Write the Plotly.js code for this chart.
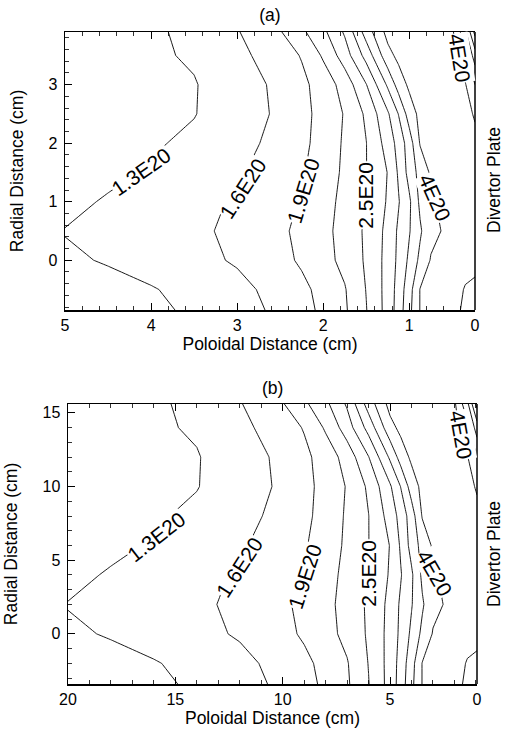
<!DOCTYPE html>
<html><head><meta charset="utf-8">
<script src="https://cdn.plot.ly/plotly-3.0.1.min.js"></script>
<style>html,body{margin:0;padding:0;background:#fff}#chart{width:506px;height:729px}</style>
</head><body><div id="chart"></div>
<script>
// ---- data (density in units of 1E20 m^-3) ----
const xA = [5, 4.5, 4, 3.5, 3, 2.5, 2.25, 2, 1.75, 1.5, 1.25, 1.125, 1, 0.875, 0.75, 0.5, 0.35, 0.237];
const yA = [-0.85, -0.5, 0, 0.5, 1, 1.5, 2, 2.5, 3, 3.5, 3.9];
const xB = [20, 18, 16, 14, 12, 10, 9, 8, 7, 6, 5, 4.5, 4, 3.5, 3, 2, 1.4, 0.95];
const yB = [-3.4, -2, 0, 2, 4, 6, 8, 10, 12, 14, 15.6];
const density = [
  [1.13, 1.19, 1.25, 1.34, 1.49, 1.66, 1.80, 1.96, 2.16, 2.49, 2.91, 3.24, 3.62, 4.01, 4.07, 4.05, 3.97, 3.90],
  [1.17, 1.22, 1.28, 1.39, 1.52, 1.70, 1.83, 1.99, 2.18, 2.51, 2.91, 3.22, 3.58, 4.01, 4.08, 4.06, 3.99, 3.97],
  [1.26, 1.32, 1.42, 1.52, 1.63, 1.82, 1.94, 2.10, 2.28, 2.54, 2.90, 3.17, 3.46, 3.77, 4.02, 4.06, 4.05, 4.04],
  [1.31, 1.36, 1.43, 1.53, 1.68, 1.85, 1.97, 2.12, 2.30, 2.55, 2.88, 3.15, 3.38, 3.66, 3.92, 4.09, 4.07, 4.06],
  [1.22, 1.33, 1.43, 1.52, 1.63, 1.82, 1.92, 2.09, 2.28, 2.52, 2.83, 3.08, 3.35, 3.76, 3.98, 4.07, 4.08, 4.08],
  [1.17, 1.23, 1.33, 1.45, 1.56, 1.76, 1.87, 2.05, 2.25, 2.495, 2.81, 3.14, 3.51, 3.81, 4.04, 4.08, 4.08, 4.08],
  [1.15, 1.22, 1.27, 1.35, 1.50, 1.69, 1.83, 2.01, 2.24, 2.495, 2.92, 3.21, 3.55, 4.02, 4.08, 4.08, 4.07, 4.05],
  [1.14, 1.20, 1.25, 1.29, 1.45, 1.65, 1.81, 2.00, 2.22, 2.55, 3.06, 3.41, 3.84, 4.08, 4.10, 4.10, 4.06, 3.98],
  [1.13, 1.19, 1.24, 1.285, 1.45, 1.67, 1.83, 2.03, 2.32, 2.79, 3.45, 3.83, 4.06, 4.10, 4.12, 4.12, 4.02, 3.70],
  [1.12, 1.19, 1.26, 1.33, 1.52, 1.76, 1.92, 2.24, 2.65, 3.21, 3.90, 4.08, 4.10, 4.12, 4.15, 4.10, 3.79, 3.25],
  [1.10, 1.17, 1.24, 1.39, 1.58, 1.88, 2.14, 2.43, 2.84, 3.535, 4.10, 4.13, 4.15, 4.15, 4.15, 4.05, 3.48, 2.70]
];
const levelStart = 1.3, levelEnd = 4.0, levelStep = 0.3;
const xTickValsA = [5, 4, 3, 2, 1, 0.237];
const xTickTextA = ['5', '4', '3', '2', '1', '0'];
const yTickValsA = [0, 1, 2, 3];
const xTickValsB = [20, 15, 10, 5, 0.95];
const xTickTextB = ['20', '15', '10', '5', '0'];
const yTickValsB = [0, 5, 10, 15];
const labelText = ['1.3E20', '1.6E20', '1.9E20', '2.5E20', '4E20', '4E20'];

// ---- label placement (layout only) ----
const labXA = [4.11, 2.93, 2.23, 1.51, 0.70, 0.42];
const labYA = [1.51, 1.22, 1.19, 1.11, 1.08, 3.46];
const labAngA = [-35, -57, -73, -90, 66, 81];
const labXB = [15.87, 11.99, 8.96, 6.01, 2.91, 1.72];
const labYB = [6.6, 4.56, 3.88, 4.11, 4.11, 13.5];
const labAngB = [-38, -57, -72, -90, 60, 80];

const FONT = 'Liberation Sans, Arial, Helvetica, sans-serif';

function contourTrace(x, y, xa, ya) {
  return {
    type: 'contour', x: x, y: y, z: density, xaxis: xa, yaxis: ya,
    autocontour: false,
    contours: {start: levelStart, end: levelEnd + 0.01, size: levelStep, coloring: 'lines', showlabels: false},
    colorscale: [[0, '#000'], [1, '#000']],
    line: {width: 0.9, smoothing: 0},
    showscale: false, hoverinfo: 'skip'
  };
}

function axisX(domain, range, tv, tt, minorStep, anchor) {
  return {
    domain: domain, range: range, anchor: anchor,
    tickmode: 'array', tickvals: tv, ticktext: tt,
    ticks: 'inside', ticklen: 7, tickwidth: 1, tickcolor: '#000',
    minor: {tickmode: 'linear', tick0: 0, dtick: minorStep, ticks: 'inside', ticklen: 4, tickwidth: 0.8, tickcolor: '#000', showgrid: false},
    showline: true, linecolor: '#000', linewidth: 1.5, mirror: 'ticks',
    showgrid: false, zeroline: false,
    tickfont: {family: FONT, size: 16, color: '#000'},
    title: {text: 'Poloidal Distance (cm)', font: {family: FONT, size: 17.5, color: '#000'}, standoff: 1}
  };
}
function axisY(domain, range, tv, minorStep, anchor) {
  return {
    domain: domain, range: range, anchor: anchor,
    tickmode: 'array', tickvals: tv,
    ticks: 'inside', ticklen: 7, tickwidth: 1, tickcolor: '#000',
    minor: {tickmode: 'linear', tick0: 0, dtick: minorStep, ticks: 'inside', ticklen: 4, tickwidth: 0.8, tickcolor: '#000', showgrid: false},
    showline: true, linecolor: '#000', linewidth: 1.5, mirror: false,
    showgrid: false, zeroline: false, ticklabelstandoff: 3,
    tickfont: {family: FONT, size: 16, color: '#000'},
    title: {text: 'Radial Distance (cm)', font: {family: FONT, size: 17.5, color: '#000'}, standoff: 20}
  };
}

const annotations = [];
function addLabels(xs, ys, angs, xr, yr) {
  for (let i = 0; i < labelText.length; i++) {
    annotations.push({
      x: xs[i], y: ys[i], xref: xr, yref: yr, text: labelText[i], showarrow: false,
      textangle: angs[i], bgcolor: '#fff', borderpad: 0,
      font: {family: FONT, size: 21, color: '#000'}
    });
  }
}
addLabels(labXA, labYA, labAngA, 'x', 'y');
addLabels(labXB, labYB, labAngB, 'x2', 'y2');
annotations.push({text: '(b)', x: 272, y: 388, xref: 'paper', yref: 'paper', showarrow: false,
  xanchor: 'center', yanchor: 'middle', font: {family: FONT, size: 17.5, color: '#000'}});
annotations.push({text: 'Divertor Plate', x: 494, y: 180, xref: 'paper', yref: 'paper', showarrow: false, textangle: -90,
  xanchor: 'center', yanchor: 'middle', font: {family: FONT, size: 17.5, color: '#000'}});
annotations.push({text: 'Divertor Plate', x: 494, y: 554, xref: 'paper', yref: 'paper', showarrow: false, textangle: -90,
  xanchor: 'center', yanchor: 'middle', font: {family: FONT, size: 17.5, color: '#000'}});

// convert pixel-based paper positions for the page-level texts
const W = 506, H = 729, ML = 65, MR = 29, MT = 32, MB = 45;
const PW = W - ML - MR, PH = H - MT - MB;
annotations.forEach(a => {
  if (a.xref === 'paper') { a.x = (a.x - ML) / PW; a.y = (H - MB - a.y) / PH; }
});

// right-hand frame edge (the divertor plate side), drawn without ticks
const shapes = [
  {type: 'line', xref: 'x domain', yref: 'y domain', x0: 1, x1: 1, y0: 0, y1: 1, line: {color: '#000', width: 1.5}},
  {type: 'line', xref: 'x2 domain', yref: 'y2 domain', x0: 1, x1: 1, y0: 0, y1: 1, line: {color: '#000', width: 1.5}}
];

const layout = {
  width: W, height: H, margin: {l: ML, r: MR, t: MT, b: MB},
  paper_bgcolor: '#fff', plot_bgcolor: '#fff', showlegend: false,
  font: {family: FONT, color: '#000'},
  title: {text: '(a)', font: {family: FONT, size: 17.5, color: '#000'}, x: 270 / W, xanchor: 'center', y: 1 - 15 / H, yanchor: 'middle'},
  xaxis: axisX([0, 410 / PW], [5, 0.237], xTickValsA, xTickTextA, 0.2, 'y'),
  yaxis: axisY([(H - MB - 310) / PH, 1], [-0.85, 3.9], yTickValsA, 0.2, 'x'),
  xaxis2: axisX([3 / PW, 1], [20, 0.95], xTickValsB, xTickTextB, 1, 'y2'),
  yaxis2: axisY([0, (H - MB - 404) / PH], [-3.4, 15.6], yTickValsB, 1, 'x2'),
  annotations: annotations, shapes: shapes
};

Plotly.newPlot('chart', [contourTrace(xA, yA, 'x', 'y'), contourTrace(xB, yB, 'x2', 'y2')], layout, {displayModeBar: false, staticPlot: true});
</script></body></html>
